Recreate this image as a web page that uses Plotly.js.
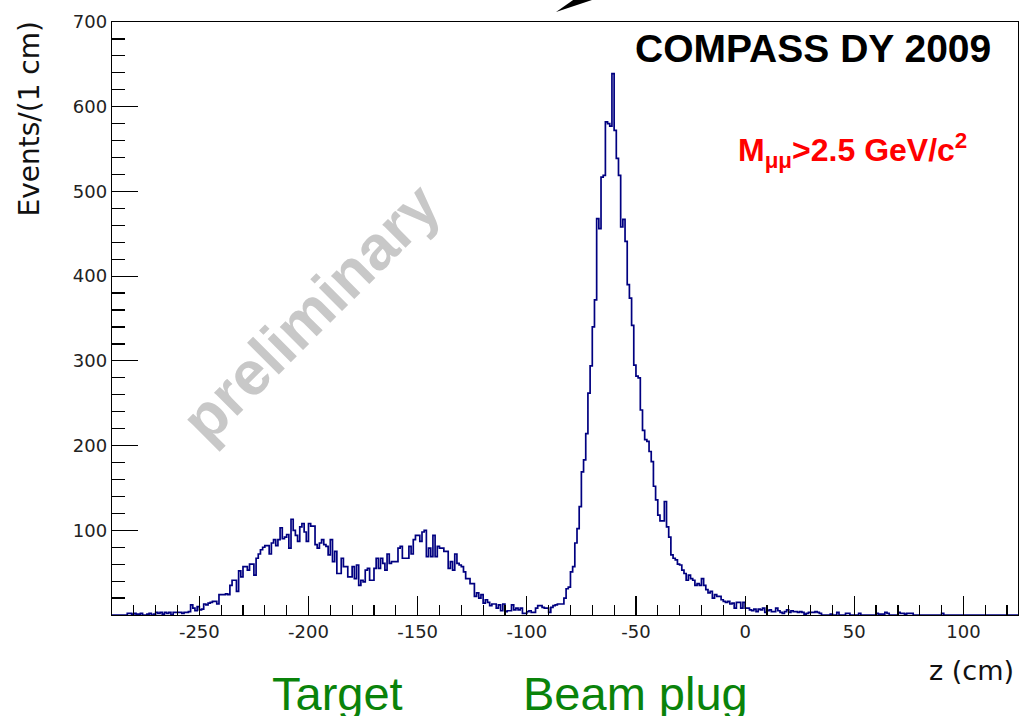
<!DOCTYPE html>
<html>
<head>
<meta charset="utf-8">
<script src="https://cdn.plot.ly/plotly-3.0.1.min.js"></script>
<style>html,body{margin:0;padding:0;background:#fff;}#chart{width:1019px;height:716px;}</style>
</head>
<body>
<div id="chart"></div>
<script>
// Histogram: z (cm), 1 cm bins starting at -290
const zStart = -290;
const binWidth = 1;
const counts = [
  0,0,0,0,0,0,0,2,2,1,            // -290..-281
  2,1,1,2,0,0,1,2,0,1,            // -280..-271
  3,2,3,1,3,2,3,0,3,3,            // -270..-261
  3,3,2,3,3,4,12,8,5,10,          // -260..-251
  6,7,13,12,14,15,16,16,13,24,    // -250..-241
  24,24,25,24,35,41,41,28,52,45,  // -240..-231
  57,57,53,60,60,47,67,72,77,80,  // -230..-221
  82,82,72,85,89,82,89,103,90,92, // -220..-211
  95,79,113,100,94,87,104,108,98,87, // -210..-201
  108,105,105,83,79,85,89,83,81,71,  // -200..-191
  89,63,75,49,49,67,57,57,45,45,  // -190..-181
  57,43,59,35,41,39,53,55,41,41,  // -180..-171
  55,67,55,67,61,53,72,61,63,63,  // -170..-161
  63,79,81,67,67,67,81,72,89,94,  // -160..-151
  94,87,98,100,69,79,69,94,69,81, // -150..-141
  79,79,75,75,55,63,53,72,61,59,  // -140..-131
  57,51,43,43,37,37,22,26,20,24,  // -130..-121
  14,18,15,11,13,13,8,12,5,13,    // -120..-111
  4,5,5,12,6,8,6,8,2,2,           // -110..-101
  4,5,3,3,8,11,11,9,8,8,          // -100..-91
  3,9,11,12,13,13,13,20,31,33,    // -90..-81
  51,57,85,102,128,169,183,214,262,294,   // -80..-71
  340,372,468,456,517,519,582,580,577,639, // -70..-61
  572,539,519,458,467,441,390,374,342,295, // -60..-51
  282,280,242,218,207,205,193,181,152,136, // -50..-41
  118,111,111,134,104,92,71,67,65,60,      // -40..-31
  59,53,49,41,47,43,41,35,37,35,  // -30..-21
  43,35,30,26,28,20,24,22,22,18,  // -20..-11
  16,15,16,13,14,8,15,15,8,15,    // -10..-1
  8,8,6,5,7,4,7,6,8,3,            // 0..9
  5,6,4,4,8,5,3,2,4,6,            // 10..19
  3,5,4,4,3,4,3,1,2,3,            // 20..29
  3,3,4,3,2,0,0,0,0,1,            // 30..39
  0,0,3,0,0,0,2,2,0,0,            // 40..49
  0,0,2,0,0,0,0,0,0,0,            // 50..59
  2,1,1,1,3,2,0,0,0,0,            // 60..69
  3,2,2,1,2,2,2,0,0,0,            // 70..79
  0,0,0,0,0,0,0,0,0,0,            // 80..89
  2,0,0,0,0,0,0,0,0,0,            // 90..99
  0,0,0,0,0,0,0,0,0,0,            // 100..109
  0,0,0,0,0,0,0,0,0,0,            // 110..119
  0,0,0,0,0                       // 120..124
];
const xTickVals = [-250,-200,-150,-100,-50,0,50,100];
const xTickText = ['-250','-200','-150','-100','-50','0','50','100'];
const yTickVals = [100,200,300,400,500,600,700];
const yTickText = ['100','200','300','400','500','600','700'];

const xs = [], ys = [];
for (let i = 0; i < counts.length; i++) {
  xs.push(zStart + i * binWidth);
  ys.push(counts[i]);
}
xs.push(zStart + counts.length * binWidth);
ys.push(counts[counts.length - 1]);

const trace = {
  x: xs, y: ys, type: 'scatter', mode: 'lines',
  line: {shape: 'hv', color: '#000080', width: 1.7},
  hoverinfo: 'skip', showlegend: false
};

const L = 112, R = 1018, T = 22, B = 615;
const W = R - L, H = B - T;
function px(x){ return (x - L) / W; }
function py(y){ return (B - y) / H; }

const layout = {
  width: 1019, height: 716,
  margin: {l: L, r: 1019 - R, t: T, b: 716 - B, pad: 0},
  paper_bgcolor: '#fff', plot_bgcolor: '#fff',
  showlegend: false,
  xaxis: {
    range: [-290, 125], showgrid: false, zeroline: false,
    showline: true, linecolor: '#000', linewidth: 1.3, mirror: true,
    ticks: 'inside', ticklen: 19, tickwidth: 1.2, tickcolor: '#000',
    tickmode: 'array', tickvals: xTickVals, ticktext: xTickText,
    tickfont: {family: 'DejaVu Sans', size: 18, color: '#222'},
    minor: {ticks: 'inside', ticklen: 10, tickwidth: 1.2, tickcolor: '#000', tickmode: 'linear', tick0: 0, dtick: 10, showgrid: false}
  },
  yaxis: {
    range: [0, 700], showgrid: false, zeroline: false,
    showline: true, linecolor: '#000', linewidth: 1.3, mirror: true,
    ticks: 'inside', ticklen: 26, tickwidth: 1.2, tickcolor: '#000',
    tickmode: 'array', tickvals: yTickVals, ticktext: yTickText,
    tickfont: {family: 'DejaVu Sans', size: 18, color: '#222'},
    minor: {ticks: 'inside', ticklen: 13, tickwidth: 1.2, tickcolor: '#000', tickmode: 'linear', tick0: 0, dtick: 20, showgrid: false}
  },
  annotations: [
    {text: 'preliminary', xref: 'paper', yref: 'paper', x: px(310), y: py(312),
     xanchor: 'center', yanchor: 'middle', textangle: -45, showarrow: false,
     font: {family: 'Liberation Sans', size: 62, color: '#c8c8c8', weight: 'bold'}},
    {text: '<b>COMPASS DY 2009</b>', xref: 'paper', yref: 'paper', x: px(993), y: py(49),
     xanchor: 'right', yanchor: 'middle', showarrow: false,
     font: {family: 'Liberation Sans', size: 39, color: '#000'}},
    {text: '<b>M<sub>μμ</sub>>2.5 GeV/c<sup>2</sup></b>', xref: 'paper', yref: 'paper', x: px(969), y: py(150),
     xanchor: 'right', yanchor: 'middle', showarrow: false,
     font: {family: 'Liberation Sans', size: 32, color: '#ff0000'}},
    {text: 'Events/(1 cm)', xref: 'paper', yref: 'paper', x: px(29), y: py(20),
     xanchor: 'center', yanchor: 'top', textangle: -90, showarrow: false,
     font: {family: 'DejaVu Sans', size: 28, color: '#111'}},
    {text: 'z (cm)', xref: 'paper', yref: 'paper', x: px(1016), y: py(670),
     xanchor: 'right', yanchor: 'middle', showarrow: false,
     font: {family: 'DejaVu Sans', size: 27, color: '#111'}},
    {text: 'Target', xref: 'paper', yref: 'paper', x: px(337), y: py(693),
     xanchor: 'center', yanchor: 'middle', showarrow: false,
     font: {family: 'Liberation Sans', size: 47, color: '#0a830a'}},
    {text: 'Beam plug', xref: 'paper', yref: 'paper', x: px(635), y: py(693),
     xanchor: 'center', yanchor: 'middle', showarrow: false,
     font: {family: 'Liberation Sans', size: 47, color: '#0a830a'}}
  ],
  shapes: [
    {type: 'path', xref: 'paper', yref: 'paper', layer: 'above',
     path: 'M ' + px(556) + ',' + py(12) + ' L ' + px(598) + ',' + py(-2) + ' L ' + px(576) + ',' + py(-2) + ' Z',
     fillcolor: '#000', line: {width: 0}}
  ]
};

Plotly.newPlot('chart', [trace], layout, {displayModeBar: false, staticPlot: true});
</script>
</body>
</html>
